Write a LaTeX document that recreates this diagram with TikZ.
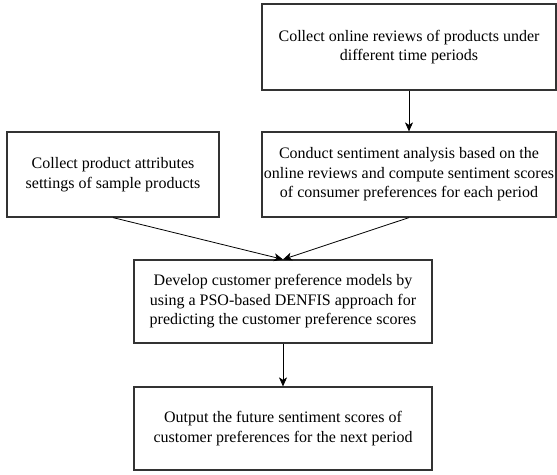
\documentclass[tikz,border=0pt]{standalone}
\usepackage{fontspec}
\setmainfont{Liberation Serif}
\usepackage{tikz}
\usetikzlibrary{arrows.meta,positioning}
\usepackage{xcolor}
\definecolor{boxline}{rgb}{0.2, 0.2, 0.2}

\begin{document}
\begin{tikzpicture}[x=1pt,y=-1pt]
	% Fix the page to the size of the reference.
	\useasboundingbox (0,0) rectangle (557,474);

	\tikzstyle{step box}=[draw=boxline,line width=1.2pt,align=center,inner sep=2pt,font=\fontsize{16}{19.5}\selectfont]
	\tikzstyle{flow arrow}=[draw=black,line width=0.8pt,-{Stealth[length=9pt,width=8pt,inset=2.5pt]}]

	% The five steps.
	\node (reviews) at (409,47) [step box, minimum width=294pt, minimum height=86pt]
		{Collect online reviews of products under\\different time periods};
	\node (attributes) at (113,174.5) [step box, minimum width=212pt, minimum height=85pt]
		{Collect product attributes\\settings of sample products};
	\node (sentiment) at (409,174.5) [step box, minimum width=294pt, minimum height=85pt]
		{Conduct sentiment analysis based on the\\online reviews and compute sentiment scores\\of consumer preferences for each period};
	\node (models) at (283,301.5) [step box, minimum width=298pt, minimum height=83pt]
		{Develop customer preference models by\\using a PSO-based DENFIS approach for\\predicting the customer preference scores};
	\node (output) at (283,428.5) [step box, minimum width=298pt, minimum height=83pt]
		{Output the future sentiment scores of\\customer preferences for the next period};

	% Connect them.
	\draw [flow arrow] (reviews.south) -- (sentiment.north);
	\draw [flow arrow] (attributes.south) -- (models.north);
	\draw [flow arrow] (sentiment.south) -- (models.north);
	\draw [flow arrow] (models.south) -- (output.north);
\end{tikzpicture}
\end{document}
